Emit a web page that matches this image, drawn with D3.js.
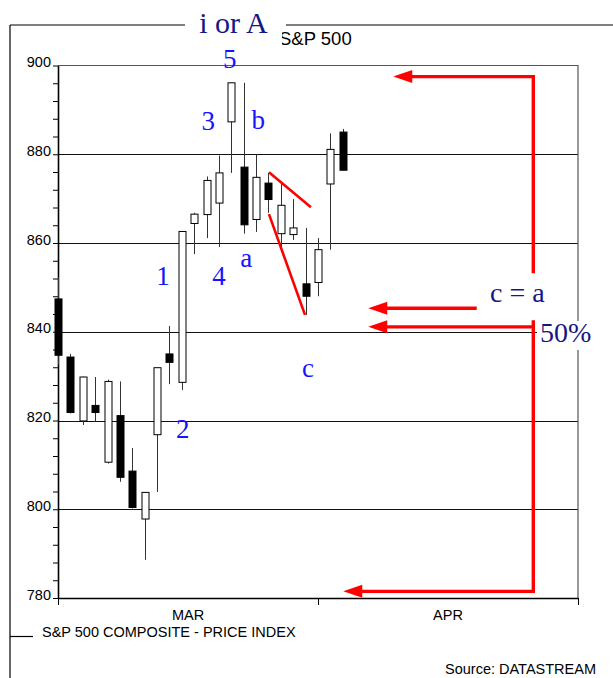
<!DOCTYPE html>
<html>
<head>
<meta charset="utf-8">
<script src="https://cdn.jsdelivr.net/npm/d3@7"></script>
<style>
  html, body { margin: 0; padding: 0; background: #fff; }
  svg { display: block; }
</style>
</head>
<body>
<svg id="chart" width="613" height="678"></svg>
<script>
// ---------- DATA ----------
const dayIndex = d3.range(0, 24);            // trading days from 3 Mar
const opens  = [847.4, 834.3, 819.9, 823.4, 810.6, 821.1, 808.6, 797.8, 816.8, 835.0, 828.6, 864.4,
                866.4, 869.0, 887.3, 877.1, 865.3, 873.5, 862.1, 861.9, 850.8, 851.1, 873.3, 885.0];
const highs  = [852.3, 835.0, 829.9, 829.8, 829.2, 828.8, 813.8, 803.8, 831.9, 841.3, 862.6, 866.8,
                875.0, 879.7, 896.1, 896.1, 879.9, 875.8, 873.5, 869.9, 863.4, 861.1, 884.7, 885.7];
const lows   = [832.6, 821.6, 819.0, 819.8, 810.3, 806.2, 800.2, 788.6, 803.9, 828.2, 826.9, 857.5,
                861.1, 859.1, 875.8, 862.1, 862.5, 866.8, 857.9, 860.7, 843.8, 848.0, 858.5, 876.4];
const closes = [834.7, 821.8, 829.8, 821.8, 828.8, 807.2, 800.4, 803.8, 831.9, 833.1, 862.6, 866.5,
                874.1, 875.8, 896.1, 864.1, 874.8, 869.8, 868.5, 863.4, 848.0, 858.5, 881.1, 876.4];

const yTicksMajor = [780, 800, 820, 840, 860, 880, 900];
const gridValues  = [800, 820, 840, 860, 880];
const monthBounds = [0, 21, 42];
const monthLabels = ["MAR", "APR"];

const title = "S&P 500";
const seriesName = "S&P 500 COMPOSITE - PRICE INDEX";
const sourceText = "Source: DATASTREAM";

// wave labels (blue): [text, day index (centre), value (baseline)]
const waveLabels = [
  ["5", 13.87, 899.4], ["3", 12.14, 885.5], ["b", 16.18, 885.7], ["a", 15.21, 854.5],
  ["4", 13.00, 850.5], ["1", 8.48, 850.5], ["2", 10.07, 816.0], ["c", 20.19, 829.7]
];
// navy notes: [text, day index (left), value (baseline), size]
const notes = [
  ["i or A", 11.41, 907.3, 30], ["c = a", 34.89, 846.7, 28], ["50%", 38.93, 837.7, 28]
];
// red arrows (last point = tip)
const arrows = [
  [[38.39, 853.2], [38.39, 897.5], [27.08, 897.5]],
  [[33.82, 845.3], [25.06, 845.3]],
  [[38.39, 841.1], [25.06, 841.1]],
  [[38.39, 842.6], [38.39, 781.5], [23.04, 781.5]]
];
// red wedge lines
const wedge = [
  [[17.04, 875.95], [20.43, 868.05]],
  [[17.04, 866.5], [19.95, 843.8]]
];

// ---------- CHART ----------
const svg = d3.select("#chart");
const sans = "'Liberation Sans', Arial, sans-serif";
const serif = "'Liberation Serif', 'Times New Roman', serif";

const x = d3.scaleLinear().domain([0, 42]).range([58, 578]);
const y = d3.scaleLinear().domain([780, 900]).range([598, 65.5]);

// outer frame
svg.append("line").attr("x1", 10).attr("x2", 10).attr("y1", 25).attr("y2", 678)
  .attr("stroke", "#000").attr("stroke-width", 1.2);
svg.append("line").attr("x1", 10).attr("x2", 185).attr("y1", 25).attr("y2", 25)
  .attr("stroke", "#000").attr("stroke-width", 1.2);
svg.append("line").attr("x1", 286).attr("x2", 613).attr("y1", 25).attr("y2", 25)
  .attr("stroke", "#000").attr("stroke-width", 1.2);

// title
svg.append("text").attr("x", 279).attr("y", 45).text(title)
  .attr("font-family", sans).attr("font-size", 18.5).attr("fill", "#000");

// gridlines
svg.append("g").selectAll("line").data(gridValues).join("line")
  .attr("x1", x(0)).attr("x2", x(42))
  .attr("y1", d => Math.round(y(d)) + 0.5).attr("y2", d => Math.round(y(d)) + 0.5)
  .attr("stroke", "#111").attr("stroke-width", 1);

// top & right border
svg.append("path")
  .attr("d", `M${x(0)},${y(900)}H${x(42)}V${y(780)}`)
  .attr("fill", "none").attr("stroke", "#555").attr("stroke-width", 1.2);

// y axis
const yAxis = d3.axisLeft(y)
  .tickValues(d3.range(780, 901, 4))
  .tickSize(5).tickSizeOuter(0)
  .tickFormat(d => yTicksMajor.includes(d) ? d : "");
const gy = svg.append("g").attr("transform", `translate(${x(0)},0)`).call(yAxis);
gy.select(".domain").attr("stroke", "#000").attr("stroke-width", 1.6);
gy.selectAll(".tick line").attr("stroke", "#000");
gy.selectAll(".tick text").attr("font-family", sans).attr("font-size", 14.5)
  .attr("fill", "#000").attr("x", -7).attr("dy", "0.08em");

// x axis
const xAxis = d3.axisBottom(x).tickValues(monthBounds).tickSize(7).tickSizeOuter(0).tickFormat("");
const gx = svg.append("g").attr("transform", `translate(0,${y(780)})`).call(xAxis);
gx.select(".domain").attr("stroke", "#000").attr("stroke-width", 1.3);
gx.selectAll(".tick line").attr("stroke", "#000");
svg.append("g").selectAll("text").data(monthLabels).join("text")
  .attr("x", (d, i) => x((monthBounds[i] + monthBounds[i + 1]) / 2))
  .attr("y", 620).attr("text-anchor", "middle")
  .attr("font-family", sans).attr("font-size", 14.5).attr("fill", "#000")
  .text(d => d);

// candlesticks
const bodyW = 7;
const candles = dayIndex.map(i => ({ i, o: opens[i], h: highs[i], l: lows[i], c: closes[i] }));
const cg = svg.append("g");
cg.selectAll("line.wick").data(candles).join("line").attr("class", "wick")
  .attr("x1", d => Math.round(x(d.i)) + 0.5).attr("x2", d => Math.round(x(d.i)) + 0.5)
  .attr("y1", d => y(d.h)).attr("y2", d => y(d.l))
  .attr("stroke", "#333").attr("stroke-width", 1);
cg.selectAll("rect.body").data(candles).join("rect").attr("class", "body")
  .attr("x", d => Math.round(x(d.i)) + 0.5 - bodyW / 2)
  .attr("width", bodyW)
  .attr("y", d => y(Math.max(d.o, d.c)))
  .attr("height", d => Math.max(1, y(Math.min(d.o, d.c)) - y(Math.max(d.o, d.c))))
  .attr("fill", d => d.c < d.o ? "#000" : "#fff")
  .attr("stroke", "#000").attr("stroke-width", 1);

// red wedge lines
const line = d3.line().x(d => x(d[0])).y(d => y(d[1]));
svg.append("g").selectAll("path").data(wedge).join("path")
  .attr("d", line).attr("fill", "none").attr("stroke", "#ff0000").attr("stroke-width", 2.6);

// red arrows
const headLen = 19, headHalf = 6.5;
const ag = svg.append("g");
arrows.forEach(pts => {
  const px = pts.map(p => [x(p[0]), y(p[1])]);
  const n = px.length;
  const tip = px[n - 1], prev = px[n - 2];
  const dx = tip[0] - prev[0], dy = tip[1] - prev[1];
  const len = Math.hypot(dx, dy), ux = dx / len, uy = dy / len;
  const base = [tip[0] - ux * headLen, tip[1] - uy * headLen];
  const shaft = px.slice(0, n - 1).concat([[base[0] + ux * 2, base[1] + uy * 2]]);
  ag.append("path").attr("d", d3.line()(shaft))
    .attr("fill", "none").attr("stroke", "#ff0000").attr("stroke-width", 3.4)
    .attr("stroke-linejoin", "miter");
  ag.append("path")
    .attr("d", d3.line()([tip,
      [base[0] - uy * headHalf, base[1] + ux * headHalf],
      [base[0] + uy * headHalf, base[1] - ux * headHalf]]) + "Z")
    .attr("fill", "#ff0000");
});

// wave labels
svg.append("g").selectAll("text").data(waveLabels).join("text")
  .attr("x", d => x(d[1])).attr("y", d => y(d[2])).attr("text-anchor", "middle")
  .attr("font-family", serif).attr("font-size", 27).attr("fill", "#1414ff")
  .text(d => d[0]);

// navy notes with white backing
const ng = svg.append("g");
notes.forEach(n => {
  const t = ng.append("text").attr("x", x(n[1])).attr("y", y(n[2]))
    .attr("font-family", serif).attr("font-size", n[3]).attr("fill", "#161685").text(n[0]);
  const bb = t.node().getBBox();
  if (n[0] === "i or A") {
    ng.insert("rect", () => t.node()).attr("x", 186).attr("y", 0)
      .attr("width", 282 - 186).attr("height", 46).attr("fill", "#fff");
  } else if (n[0] === "50%") {
    ng.insert("rect", () => t.node()).attr("x", bb.x - 3).attr("y", bb.y + 4)
      .attr("width", bb.width + 8).attr("height", bb.height - 2).attr("fill", "#fff");
  }
});

// legend / series name
svg.append("line").attr("x1", 10).attr("x2", 33).attr("y1", 636.5).attr("y2", 636.5)
  .attr("stroke", "#000").attr("stroke-width", 1.2);
svg.append("text").attr("x", 42).attr("y", 637).text(seriesName)
  .attr("font-family", sans).attr("font-size", 14.5).attr("fill", "#000");

// source
svg.append("text").attr("x", 596).attr("y", 674).attr("text-anchor", "end").text(sourceText)
  .attr("font-family", sans).attr("font-size", 14.5).attr("fill", "#000");
</script>
</body>
</html>
